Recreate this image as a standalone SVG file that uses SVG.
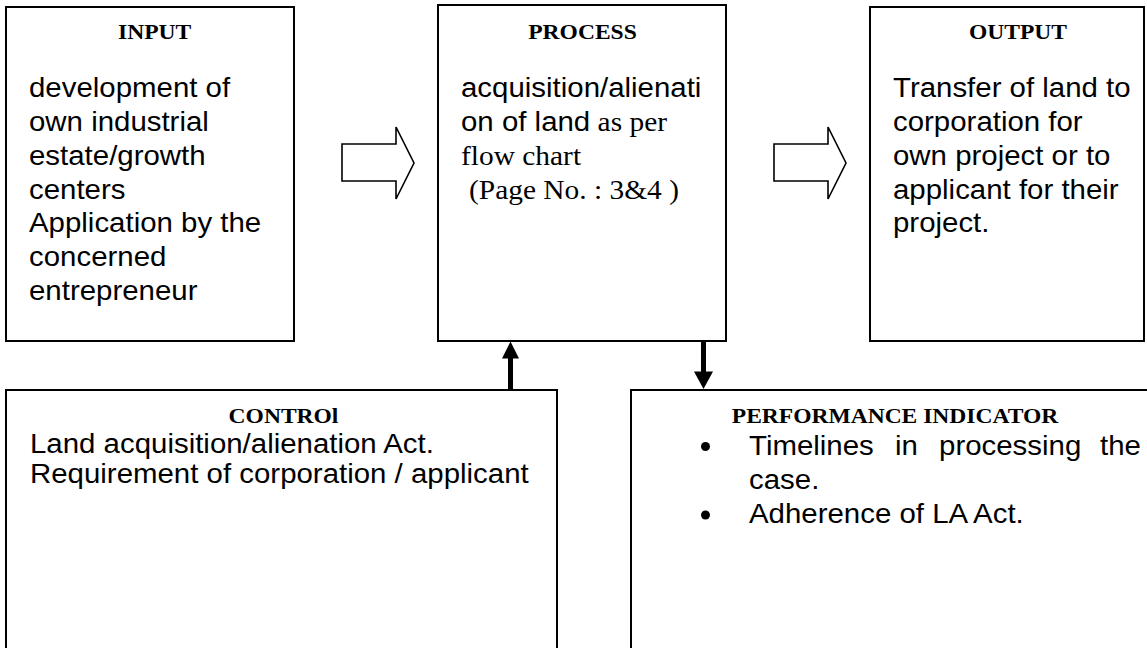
<svg xmlns="http://www.w3.org/2000/svg" width="1147" height="648" viewBox="0 0 1147 648">
<style>
.box{fill:#fff;stroke:#000;stroke-width:2}
.blk{fill:none;stroke:#000;stroke-width:1.6;stroke-linejoin:miter}
.ttl{font-family:"Liberation Serif","Times New Roman",serif;font-weight:bold;font-size:22px;fill:#000}
.bd{font-family:"Liberation Sans",Arial,sans-serif;font-size:27.5px;fill:#000}
.sf{font-family:"Liberation Serif","Times New Roman",serif}
.shaft{stroke:#000;stroke-width:5;fill:none}
.head{fill:#000}
</style>
<rect width="1147" height="648" fill="#fff"/>
<g id="input">
<rect class="box" x="6" y="7" width="288" height="334"/>
<text class="ttl" text-anchor="middle" transform="translate(154.7,39.3) scale(1.07,1)">INPUT</text>
<text class="bd" transform="translate(29,0) scale(1.07,1)">
<tspan x="0" y="97.5">development of</tspan>
<tspan x="0" y="131.2">own industrial</tspan>
<tspan x="0" y="164.9">estate/growth</tspan>
<tspan x="0" y="198.6">centers</tspan>
<tspan x="0" y="232.3">Application by the</tspan>
<tspan x="0" y="266">concerned</tspan>
<tspan x="0" y="299.7">entrepreneur</tspan>
</text>
</g>
<g id="process">
<rect class="box" x="438" y="5" width="288" height="336"/>
<text class="ttl" text-anchor="middle" transform="translate(582.5,38.5) scale(1.07,1)">PROCESS</text>
<text class="bd" transform="translate(461,0) scale(1.07,1)">
<tspan x="0" y="97.5">acquisition/alienati</tspan>
<tspan x="0" y="131.2">on of land</tspan><tspan class="sf"> as per</tspan>
<tspan class="sf" x="0" y="164.9">flow chart</tspan>
<tspan class="sf" x="7.5" y="198.6">(Page No. : 3&amp;4 )</tspan>
</text>
</g>
<g id="output">
<rect class="box" x="870" y="7" width="274" height="334"/>
<text class="ttl" text-anchor="middle" transform="translate(1018,39) scale(1.07,1)">OUTPUT</text>
<text class="bd" transform="translate(893,0) scale(1.07,1)">
<tspan x="0" y="97.5">Transfer of land to</tspan>
<tspan x="0" y="131.2">corporation for</tspan>
<tspan x="0" y="164.9">own project or to</tspan>
<tspan x="0" y="198.6">applicant for their</tspan>
<tspan x="0" y="232.3">project.</tspan>
</text>
</g>
<g id="control">
<rect class="box" x="6" y="390" width="551" height="300"/>
<text class="ttl" text-anchor="middle" transform="translate(283.5,422.7) scale(1.07,1)">CONTROl</text>
<text class="bd" transform="translate(30,0) scale(1.07,1)">
<tspan x="0" y="453.3">Land acquisition/alienation Act.</tspan>
<tspan x="0" y="482.7">Requirement of corporation / applicant</tspan>
</text>
</g>
<g id="performance">
<rect class="box" x="631" y="390" width="560" height="300"/>
<text class="ttl" text-anchor="middle" transform="translate(895,422.7) scale(1.07,1)">PERFORMANCE INDICATOR</text>
<circle cx="705.5" cy="446.5" r="4.5" fill="#000"/>
<circle cx="705.5" cy="515" r="4.5" fill="#000"/>
<text class="bd" transform="translate(749,0) scale(1.07,1)">
<tspan x="0" y="455">Timelines</tspan><tspan x="136.4" y="455">in</tspan><tspan x="177.6" y="455">processing</tspan><tspan x="328" y="455">the</tspan>
<tspan x="0" y="489.3">case.</tspan>
<tspan x="0" y="523.3">Adherence of LA Act.</tspan>
</text>
</g>
<g id="connectors">
<polygon class="blk" points="342,144 396,144 396,127 414,163 396,199 396,181 342,181"/>
<polygon class="blk" points="774,144 828,144 828,127 846,163 828,199 828,181 774,181"/>
<line class="shaft" x1="510.5" y1="390" x2="510.5" y2="356"/>
<polygon class="head" points="502,358.5 519,358.5 510.5,341.5"/>
<line class="shaft" x1="703.5" y1="341" x2="703.5" y2="374"/>
<polygon class="head" points="694,371.5 713,371.5 703.5,389"/>
</g>
</svg>
